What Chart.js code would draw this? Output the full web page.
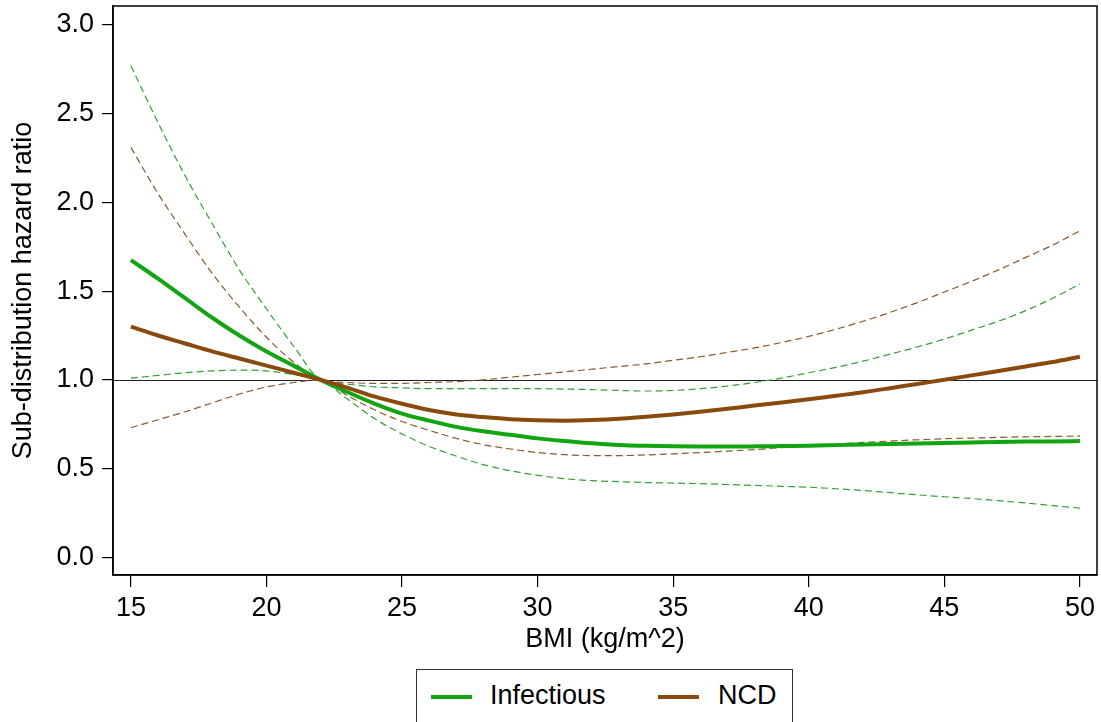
<!DOCTYPE html>
<html>
<head>
<meta charset="utf-8">
<script src="https://cdn.jsdelivr.net/npm/chart.js@4.4.1/dist/chart.umd.min.js"></script>
<style>
  body { margin: 0; background: #fff; overflow: hidden; }
  #wrap { position: relative; width: 1101px; height: 722px; }
  #legend {
    position: absolute; left: 416px; top: 669px; width: 377px; height: 70px;
    box-sizing: border-box; border: 1px solid #333; background: #fff;
    font-family: "Liberation Sans", Arial, sans-serif; font-size: 27px; color: #000;
  }
  #legend .sw { position: absolute; height: 4px; width: 41px; top: 25px; }
  #legend .lb { position: absolute; top: 9px; line-height: 32px; white-space: nowrap; }
</style>
</head>
<body>
<div id="wrap">
  <canvas id="hr" width="1101" height="722"></canvas>
  <div id="legend"></div>
</div>
<script>
// BMI grid
const bmi = [15, 16, 17, 18, 19, 20, 21, 22, 23, 24, 25, 26, 27, 28, 29, 30, 31, 32,
  33, 34, 35, 36, 37, 38, 39, 40, 41, 42, 43, 44, 45, 46, 47, 48, 49, 50];

// Infectious: SHR with 95% CI
const infHR = [1.675, 1.57, 1.46, 1.35, 1.25, 1.16, 1.08, 1.0, 0.93, 0.865, 0.81, 0.77,
  0.735, 0.71, 0.69, 0.67, 0.655, 0.642, 0.633, 0.628, 0.625, 0.624, 0.624, 0.625, 0.627,
  0.629, 0.632, 0.635, 0.638, 0.641, 0.644, 0.647, 0.65, 0.652, 0.653, 0.655];
const infLo = [1.01, 1.025, 1.04, 1.05, 1.055, 1.05, 1.03, 1.0, 0.89, 0.78, 0.695, 0.625,
  0.57, 0.522, 0.487, 0.462, 0.443, 0.432, 0.426, 0.421, 0.418, 0.415, 0.41, 0.405, 0.4,
  0.395, 0.386, 0.376, 0.364, 0.352, 0.341, 0.331, 0.319, 0.306, 0.291, 0.277];
const infHi = [2.77, 2.45, 2.15, 1.88, 1.62, 1.4, 1.19, 1.0, 0.975, 0.96, 0.955, 0.95,
  0.95, 0.95, 0.95, 0.95, 0.948, 0.945, 0.94, 0.937, 0.94, 0.95, 0.965, 0.985, 1.01,
  1.04, 1.07, 1.105, 1.145, 1.185, 1.23, 1.28, 1.33, 1.39, 1.46, 1.54];

// NCD: SHR with 95% CI
const ncdHR = [1.3, 1.25, 1.205, 1.16, 1.12, 1.08, 1.04, 1.0, 0.955, 0.905, 0.865, 0.83,
  0.805, 0.79, 0.778, 0.772, 0.77, 0.773, 0.78, 0.792, 0.805, 0.82, 0.837, 0.855, 0.872,
  0.89, 0.91, 0.93, 0.953, 0.977, 1.0, 1.025, 1.05, 1.075, 1.1, 1.13];
const ncdLo = [0.73, 0.775, 0.82, 0.87, 0.92, 0.96, 0.985, 1.0, 0.91, 0.83, 0.765, 0.715,
  0.67, 0.635, 0.61, 0.59, 0.578, 0.573, 0.573, 0.577, 0.583, 0.59, 0.598, 0.607, 0.618,
  0.628, 0.638, 0.647, 0.655, 0.662, 0.668, 0.672, 0.676, 0.679, 0.681, 0.683];
const ncdHi = [2.31, 2.05, 1.82, 1.6, 1.41, 1.24, 1.1, 1.0, 0.985, 0.98, 0.98, 0.985,
  0.99, 1.0, 1.015, 1.03, 1.045, 1.06, 1.075, 1.09, 1.11, 1.13, 1.155, 1.18, 1.21,
  1.245, 1.285, 1.33, 1.38, 1.435, 1.495, 1.555, 1.62, 1.69, 1.76, 1.84];

const xTicks = [15, 20, 25, 30, 35, 40, 45, 50];
const yTicks = [0, 0.5, 1, 1.5, 2, 2.5, 3];
const refValue = 1;

const seriesNames = ["Infectious", "NCD"];
const green = "#12a512";
const brown = "#8a4a0e";

const FONT = "'Liberation Sans', Arial, sans-serif";

function pts(ys) {
  return bmi.map((x, i) => ({ x: x, y: ys[i] }));
}

function mainLine(label, ys, color) {
  return { label: label, data: pts(ys), borderColor: color, borderWidth: 4,
    pointRadius: 0, cubicInterpolationMode: "monotone", fill: false };
}
function ciLine(label, ys, color) {
  return { label: label, data: pts(ys), borderColor: color, borderWidth: 1.2,
    borderDash: [7, 4], pointRadius: 0, cubicInterpolationMode: "monotone", fill: false };
}

// box around plot + reference line at 1
const frame = {
  id: "frame",
  beforeDatasetsDraw(chart) {
    const { ctx, chartArea: a, scales } = chart;
    const y = Math.round(scales.y.getPixelForValue(refValue)) + 0.5;
    ctx.save();
    ctx.strokeStyle = "#222";
    ctx.lineWidth = 1;
    ctx.beginPath();
    ctx.moveTo(a.left, y);
    ctx.lineTo(a.right, y);
    ctx.stroke();
    ctx.restore();
  },
  afterDraw(chart) {
    const { ctx, chartArea: a } = chart;
    ctx.save();
    ctx.strokeStyle = "#000";
    ctx.lineWidth = 1.5;
    ctx.strokeRect(a.left, a.top, a.right - a.left, a.bottom - a.top);
    ctx.restore();
  },
};

const hrCtx = document.getElementById("hr");
window.hrChart = new Chart(hrCtx, {
  type: "line",
  data: {
    datasets: [
      mainLine(seriesNames[1], ncdHR, brown),
      mainLine(seriesNames[0], infHR, green),
      ciLine("NCD lower", ncdLo, "#8b5a2b"),
      ciLine("NCD upper", ncdHi, "#8b5a2b"),
      ciLine("Infectious lower", infLo, "#33a033"),
      ciLine("Infectious upper", infHi, "#33a033"),
    ],
  },
  options: {
    responsive: false,
    animation: false,
    layout: { padding: { left: 0, right: 4, top: 6, bottom: 62 } },
    plugins: { legend: { display: false }, tooltip: { enabled: false } },
    scales: {
      x: {
        type: "linear",
        min: 14.34,
        max: 50.63,
        afterFit(s) { s.height = 85; s.paddingLeft = 0; s.paddingRight = 0; },
        afterBuildTicks(s) { s.ticks = xTicks.map(v => ({ value: v })); },
        grid: { drawOnChartArea: false, drawTicks: true, tickLength: 12, color: "#000", lineWidth: 1.2 },
        border: { display: true, color: "#000", width: 1.5 },
        ticks: { color: "#000", padding: 5, font: { family: FONT, size: 27 }, maxRotation: 0 },
        title: { display: true, text: "BMI (kg/m^2)", color: "#000",
          padding: { top: 0, bottom: 4 }, font: { family: FONT, size: 27 } },
      },
      y: {
        min: -0.1,
        max: 3.107,
        afterFit(s) { s.width = 113; s.paddingTop = 0; s.paddingBottom = 0; },
        afterBuildTicks(s) { s.ticks = yTicks.map(v => ({ value: v })); },
        grid: { drawOnChartArea: false, drawTicks: true, tickLength: 11, color: "#000", lineWidth: 1.2 },
        border: { display: true, color: "#000", width: 1.5 },
        ticks: { color: "#000", padding: 8, font: { family: FONT, size: 27 },
          callback: v => Number(v).toFixed(1) },
        title: { display: true, text: "Sub-distribution hazard ratio", color: "#000",
          padding: { top: 7, bottom: 0 }, font: { family: FONT, size: 27 } },
      },
    },
  },
  plugins: [frame],
});

// legend below the axis
const legend = document.getElementById("legend");
const legendItems = [
  { name: seriesNames[0], color: green, sw: 14, lb: 73 },
  { name: seriesNames[1], color: brown, sw: 241, lb: 301 },
];
legendItems.forEach(it => {
  const sw = document.createElement("div");
  sw.className = "sw";
  sw.style.left = it.sw + "px";
  sw.style.background = it.color;
  const lb = document.createElement("span");
  lb.className = "lb";
  lb.style.left = it.lb + "px";
  lb.textContent = it.name;
  legend.appendChild(sw);
  legend.appendChild(lb);
});
</script>
</body>
</html>
